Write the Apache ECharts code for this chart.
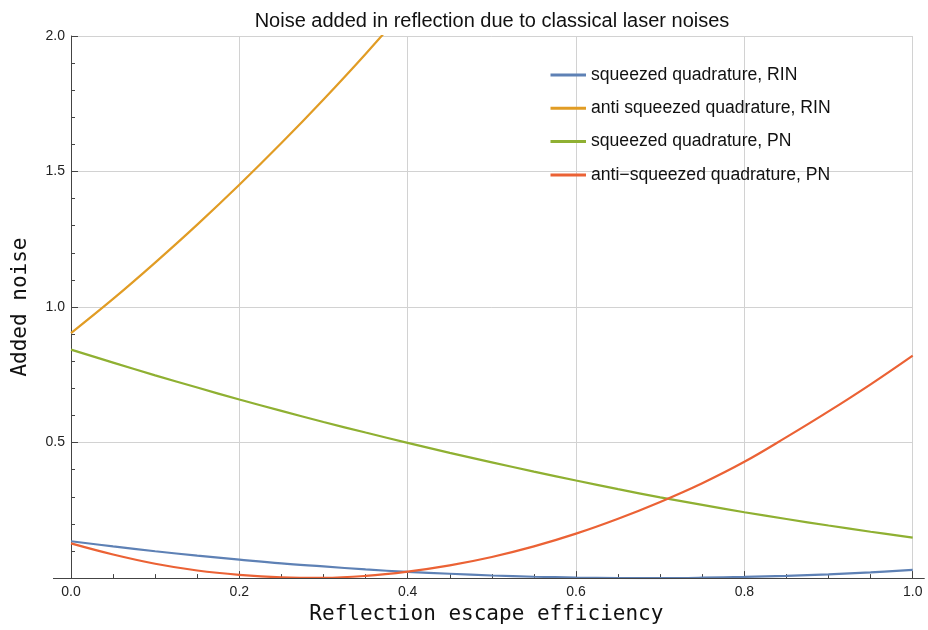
<!DOCTYPE html>
<html><head><meta charset="utf-8">
<script src="https://cdn.jsdelivr.net/npm/echarts@6/dist/echarts.min.js"></script>
<style>html,body{margin:0;padding:0;background:#fff}#c{width:928px;height:630px}</style>
</head><body><div id="c"></div>
<script>
const titleText = 'Noise added in reflection due to classical laser noises';
const xName = 'Reflection escape efficiency';
const yName = 'Added noise';
const seriesNames = ['squeezed quadrature, RIN','anti squeezed quadrature, RIN','squeezed quadrature, PN','anti\u2212squeezed quadrature, PN'];
const seriesColors = ['#5E81B5','#E19C24','#8FB032','#EB6235'];

const xs = [0,0.05,0.1,0.15,0.2,0.25,0.3,0.35,0.4,0.45,0.5,0.55,0.6,0.65,0.7,0.75,0.8,0.85,0.9,0.95,1.0];
const blueRIN = [0.136,0.117,0.099,0.083,0.068,0.054,0.043,0.032,0.023,0.016,0.0095,0.005,0.002,0.0004,0.0001,0.0014,0.0042,0.0085,0.014,0.021,0.030];
const xsOrange = [0,0.05,0.1,0.15,0.2,0.25,0.3,0.35,0.4];
const orangeRIN = [0.904,1.030,1.164,1.304,1.451,1.605,1.766,1.934,2.11];
const greenPN = [0.843,0.795,0.748,0.703,0.659,0.617,0.576,0.537,0.499,0.462,0.427,0.393,0.360,0.328,0.298,0.270,0.243,0.218,0.194,0.171,0.149];
const redPN = [0.128,0.087,0.053,0.028,0.012,0.003,0.001,0.008,0.024,0.047,0.078,0.117,0.164,0.219,0.281,0.350,0.429,0.520,0.615,0.715,0.821];

const pairs = (x, y) => x.map((v, i) => [v, y[i]]);
const dataSets = [pairs(xs, blueRIN), pairs(xsOrange, orangeRIN), pairs(xs, greenPN), pairs(xs, redPN)];

const chart = echarts.init(document.getElementById('c'), null, {renderer: 'canvas'});
const axisCol = '#444';
const txtCol = '#222';
chart.setOption({
  animation: false,
  backgroundColor: '#fff',
  title: {
    text: titleText, left: 487, top: 6, textAlign: 'center',
    textStyle: {fontFamily: 'Liberation Sans', fontSize: 20, fontWeight: 'normal', color: '#111'}
  },
  legend: {
    orient: 'vertical', left: 545.5, top: 61, itemWidth: 35.5, itemHeight: 3, itemGap: 15.3, icon: 'rect',
    data: seriesNames,
    textStyle: {fontFamily: 'Liberation Sans', fontSize: 17.6, color: '#111', lineHeight: 17}
  },
  grid: {left: 71, right: 15.3, top: 36, bottom: 51.3},
  xAxis: {
    type: 'value', min: 0, max: 1, interval: 0.2,
    name: xName, nameLocation: 'middle', nameGap: 24,
    nameTextStyle: {fontFamily: 'DejaVu Sans Mono', fontSize: 21, color: '#111', padding: [0, 11, 0, 0]},
    axisLine: {show: true, onZero: false, lineStyle: {color: axisCol, width: 1}},
    axisTick: {show: true, inside: true, length: 7, lineStyle: {color: axisCol}},
    minorTick: {show: true, splitNumber: 4, length: 4, lineStyle: {color: axisCol}},
    axisLabel: {fontFamily: 'Liberation Sans', fontSize: 14, color: txtCol, margin: 7, formatter: v => v.toFixed(1)},
    splitLine: {show: true, lineStyle: {color: '#d2d2d2', width: 1}}
  },
  yAxis: {
    type: 'value', min: 0, max: 2, interval: 0.5,
    name: yName, nameLocation: 'middle', nameGap: 40,
    nameTextStyle: {fontFamily: 'DejaVu Sans Mono', fontSize: 21, color: '#111'},
    axisLine: {show: true, onZero: false, lineStyle: {color: axisCol, width: 1}},
    axisTick: {show: true, inside: true, length: 7, lineStyle: {color: axisCol}},
    minorTick: {show: true, splitNumber: 5, length: 4, lineStyle: {color: axisCol}},
    axisLabel: {fontFamily: 'Liberation Sans', fontSize: 14, color: txtCol, margin: 6, formatter: v => v === 0 ? '' : v.toFixed(1)},
    splitLine: {show: true, lineStyle: {color: '#d2d2d2', width: 1}}
  },
  series: seriesNames.map((n, i) => ({
    name: n, type: 'line', data: dataSets[i], smooth: 0.4, showSymbol: false, symbol: 'none', clip: true,
    color: seriesColors[i], lineStyle: {color: seriesColors[i], width: 2.2}
  }))
});
// extend the x axis line slightly beyond the plot frame, as in the reference
const p0 = chart.convertToPixel({gridIndex: 0}, [0, 0]);
const p1 = chart.convertToPixel({gridIndex: 0}, [1, 0]);
chart.setOption({graphic: [{
  type: 'line', silent: true, z: 5,
  shape: {x1: p0[0] - 18, y1: Math.round(p0[1]) + 0.5, x2: p1[0] + 12, y2: Math.round(p0[1]) + 0.5},
  style: {stroke: axisCol, lineWidth: 1}
}]});
</script></body></html>
